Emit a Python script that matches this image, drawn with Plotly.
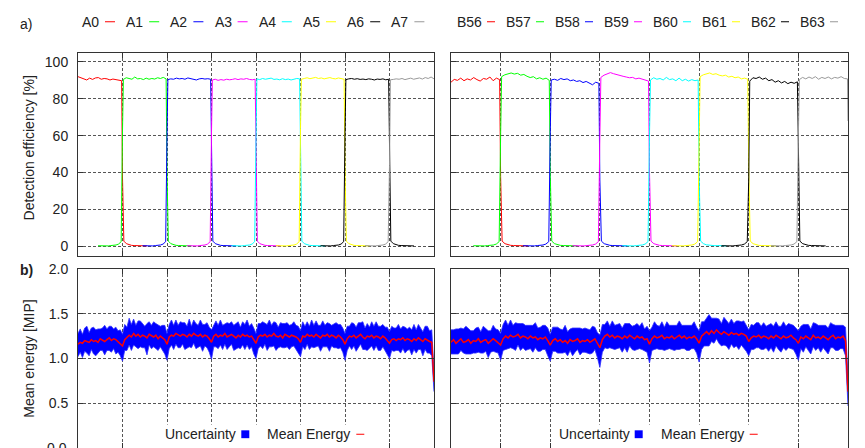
import numpy as np
import plotly.graph_objects as go

# ---------------- data ----------------
N_CELLS = 8
LABELS_A = ["A0", "A1", "A2", "A3", "A4", "A5", "A6", "A7"]
LABELS_B = ["B56", "B57", "B58", "B59", "B60", "B61", "B62", "B63"]
COLORS = ["#ff0000", "#00ff00", "#0000ff", "#ff00ff", "#00ffff", "#ffff00", "#000000", "#999999"]

# detection efficiency [%] on each channel's own tile
PLATEAU_A = [
    [92.0, 91.5, 91.0, 90.2, 91.2, 90.5, 91.3, 91.5, 90.6, 91.0, 90.8, 90.2, 90.7, 90.4, 90.0, 89.8],
    [90.5, 91.4, 91.2, 90.6, 91.8, 90.8, 91.0, 90.4, 91.2, 90.6, 91.0, 90.7, 91.4, 91.0, 91.6, 90.8],
    [90.4, 90.8, 90.6, 91.2, 90.8, 91.0, 90.6, 91.3, 90.9, 90.5, 90.2, 90.8, 91.0, 90.7, 90.9, 90.6],
    [90.2, 90.6, 90.0, 90.4, 90.1, 90.6, 90.3, 90.5, 90.9, 90.4, 90.8, 90.6, 91.0, 90.5, 90.3, 90.6],
    [90.8, 90.4, 91.0, 90.6, 90.8, 91.2, 90.5, 90.7, 90.3, 90.9, 90.4, 90.7, 90.2, 90.6, 91.0, 90.8],
    [90.6, 91.0, 91.4, 90.9, 91.2, 91.6, 91.0, 91.3, 90.8, 91.1, 91.5, 91.0, 90.8, 91.3, 91.0, 90.6],
    [90.4, 90.8, 91.0, 90.6, 90.9, 90.5, 90.7, 90.4, 90.8, 90.6, 90.2, 90.7, 90.5, 90.8, 90.3, 90.6],
    [90.3, 90.5, 90.8, 90.6, 91.0, 90.4, 90.7, 91.2, 90.6, 90.9, 91.3, 90.7, 91.5, 91.0, 91.8, 90.8],
]
PLATEAU_B = [
    [89.0, 90.5, 90.0, 91.2, 89.8, 90.8, 90.2, 91.5, 90.4, 89.6, 91.0, 90.6, 91.8, 89.8, 91.2, 90.4],
    [92.0, 93.0, 93.6, 94.0, 93.4, 93.8, 92.8, 93.2, 92.2, 91.5, 92.0, 90.8, 91.4, 90.6, 91.2, 90.0],
    [90.2, 90.6, 90.0, 91.0, 90.4, 90.8, 89.8, 90.2, 89.4, 89.8, 88.8, 89.4, 88.6, 87.6, 89.0, 88.4],
    [91.6, 92.8, 93.4, 94.2, 93.6, 93.0, 92.6, 92.2, 91.8, 91.4, 91.6, 90.8, 91.2, 90.6, 90.2, 89.6],
    [90.2, 91.4, 90.6, 91.0, 90.2, 91.6, 90.4, 90.8, 89.8, 91.2, 89.8, 90.6, 89.6, 90.4, 89.8, 90.2],
    [92.0, 93.0, 93.6, 94.0, 93.2, 93.6, 92.8, 92.4, 92.8, 91.8, 92.2, 91.4, 91.8, 90.8, 91.2, 90.6],
    [89.6, 91.4, 91.0, 91.8, 90.6, 91.2, 89.8, 90.4, 89.0, 89.8, 88.6, 89.4, 88.2, 89.0, 88.4, 89.2],
    [90.4, 91.6, 90.8, 91.8, 91.0, 92.0, 90.6, 91.6, 91.0, 91.8, 90.8, 91.6, 91.2, 92.0, 91.0, 90.8],
]
RISE_A = [None, 63, 60, 62, 58, 64, 61, 44]
FALL_A = [37, 40, 43, 38, 40, 42, 60, None]
RISE_B = [None, 60, 62, 60, 61, 55, 37, 60]
FALL_B = [38, 40, 36, 40, 38, 42, 60, None]
END_B = 68
PRE_TAIL = [0.3, 0.2, 0.4, 0.3, 0.2, 0.4, 0.5, 0.7, 1.2, 2.5]
POST_TAIL = [2.8, 1.4, 0.8, 0.5, 0.4, 0.3, 0.4, 0.2, 0.3, 0.2]

EFF_TICKS = [0, 20, 40, 60, 80, 100]
EN_TICKS = [0.0, 0.5, 1.0, 1.5, 2.0]

# mean energy [MIP] along the scan, 20 samples per tile + end point
LEFT_MEAN = [
    1.16, 1.18, 1.17, 1.20, 1.19, 1.18, 1.21, 1.19, 1.20, 1.18, 1.22, 1.20, 1.19, 1.21, 1.23, 1.20, 1.22, 1.21, 1.19, 1.17,
    1.14, 1.21, 1.23, 1.26, 1.24, 1.28, 1.25, 1.27, 1.24, 1.26, 1.25, 1.23, 1.27, 1.25, 1.24, 1.26, 1.22, 1.25, 1.23, 1.21,
    1.16, 1.24, 1.26, 1.25, 1.28, 1.26, 1.25, 1.27, 1.26, 1.24, 1.27, 1.25, 1.28, 1.26, 1.25, 1.27, 1.24, 1.26, 1.25, 1.22,
    1.18, 1.25, 1.27, 1.24, 1.26, 1.25, 1.28, 1.24, 1.26, 1.27, 1.25, 1.23, 1.26, 1.24, 1.27, 1.25, 1.26, 1.24, 1.25, 1.21,
    1.17, 1.24, 1.26, 1.25, 1.27, 1.24, 1.26, 1.25, 1.28, 1.25, 1.24, 1.26, 1.23, 1.27, 1.25, 1.24, 1.26, 1.25, 1.24, 1.22,
    1.18, 1.25, 1.24, 1.27, 1.25, 1.26, 1.24, 1.27, 1.25, 1.23, 1.26, 1.25, 1.27, 1.24, 1.26, 1.25, 1.23, 1.26, 1.24, 1.21,
    1.16, 1.22, 1.25, 1.24, 1.26, 1.23, 1.25, 1.27, 1.24, 1.22, 1.25, 1.24, 1.26, 1.23, 1.25, 1.24, 1.22, 1.25, 1.23, 1.20,
    1.17, 1.21, 1.22, 1.20, 1.22, 1.21, 1.23, 1.20, 1.22, 1.21, 1.19, 1.22, 1.20, 1.23, 1.21, 1.19, 1.22, 1.20, 1.19, 1.18,
    0.74,
]
LEFT_ERR_UP = [
    .12, .15, .10, .14, .17, .11, .13, .16, .12, .15, .11, .14, .18, .12, .13, .16, .11, .14, .12, .15,
    .13, .17, .12, .19, .14, .16, .12, .15, .18, .13, .11, .16, .14, .12, .17, .13, .15, .11, .14, .16,
    .12, .14, .17, .12, .15, .11, .16, .13, .14, .12, .17, .11, .15, .13, .12, .16, .14, .12, .15, .13,
    .14, .12, .15, .13, .17, .12, .11, .16, .13, .14, .12, .16, .15, .11, .14, .13, .17, .12, .14, .13,
    .11, .15, .13, .16, .12, .14, .17, .12, .13, .15, .11, .14, .16, .12, .15, .13, .12, .16, .13, .14,
    .13, .16, .12, .14, .11, .17, .13, .15, .12, .14, .16, .12, .13, .15, .11, .14, .17, .12, .14, .13,
    .12, .14, .11, .16, .13, .12, .15, .13, .17, .12, .14, .11, .15, .13, .16, .12, .14, .13, .12, .15,
    .13, .15, .12, .14, .16, .12, .13, .15, .11, .14, .13, .16, .12, .15, .13, .11, .14, .16, .12, .14,
    .11,
]
LEFT_ERR_DN = [
    .14, .11, .16, .12, .13, .15, .11, .14, .17, .12, .13, .11, .15, .12, .14, .13, .11, .16, .12, .14,
    .17, .12, .14, .11, .15, .13, .12, .16, .11, .14, .13, .19, .12, .14, .11, .15, .13, .12, .14, .16,
    .18, .13, .11, .15, .12, .14, .13, .11, .16, .12, .14, .13, .11, .15, .12, .13, .16, .12, .13, .15,
    .19, .12, .14, .13, .11, .15, .12, .14, .13, .11, .16, .12, .14, .13, .12, .15, .11, .14, .12, .16,
    .17, .13, .12, .14, .11, .15, .13, .12, .14, .16, .12, .13, .11, .15, .12, .14, .13, .11, .14, .15,
    .16, .12, .14, .11, .15, .13, .12, .14, .11, .15, .13, .12, .14, .16, .12, .13, .11, .15, .12, .14,
    .18, .13, .11, .14, .12, .15, .13, .11, .14, .12, .16, .13, .12, .14, .11, .15, .13, .12, .14, .15,
    .17, .12, .14, .11, .13, .15, .12, .14, .13, .11, .15, .12, .14, .13, .11, .16, .12, .14, .13, .15,
    .11,
]
RIGHT_MEAN = [
    1.18, 1.21, 1.17, 1.20, 1.22, 1.18, 1.19, 1.21, 1.17, 1.20, 1.19, 1.22, 1.18, 1.20, 1.21, 1.17, 1.19, 1.22, 1.20, 1.18,
    1.15, 1.22, 1.25, 1.23, 1.26, 1.24, 1.25, 1.27, 1.23, 1.25, 1.24, 1.22, 1.25, 1.23, 1.24, 1.21, 1.23, 1.22, 1.24, 1.20,
    1.15, 1.20, 1.22, 1.19, 1.21, 1.18, 1.20, 1.17, 1.21, 1.19, 1.20, 1.22, 1.18, 1.20, 1.19, 1.21, 1.18, 1.20, 1.22, 1.17,
    1.12, 1.21, 1.25, 1.27, 1.24, 1.26, 1.23, 1.25, 1.24, 1.22, 1.25, 1.23, 1.26, 1.24, 1.22, 1.25, 1.23, 1.24, 1.21, 1.22,
    1.16, 1.22, 1.25, 1.23, 1.24, 1.26, 1.22, 1.24, 1.23, 1.25, 1.22, 1.24, 1.26, 1.23, 1.25, 1.22, 1.24, 1.23, 1.25, 1.22,
    1.17, 1.25, 1.28, 1.30, 1.27, 1.31, 1.28, 1.32, 1.29, 1.27, 1.30, 1.28, 1.26, 1.29, 1.27, 1.28, 1.26, 1.28, 1.27, 1.25,
    1.19, 1.23, 1.25, 1.24, 1.26, 1.23, 1.25, 1.24, 1.22, 1.25, 1.23, 1.26, 1.24, 1.22, 1.25, 1.23, 1.24, 1.26, 1.23, 1.21,
    1.17, 1.24, 1.22, 1.25, 1.23, 1.21, 1.26, 1.23, 1.24, 1.22, 1.25, 1.23, 1.21, 1.24, 1.26, 1.22, 1.24, 1.23, 1.25, 1.20,
    0.63,
]
RIGHT_ERR_UP = [
    .14, .11, .16, .13, .12, .15, .17, .12, .14, .11, .15, .13, .12, .16, .13, .14, .12, .15, .13, .14,
    .13, .16, .18, .14, .17, .13, .15, .12, .16, .14, .13, .15, .12, .14, .16, .13, .12, .15, .13, .14,
    .12, .15, .13, .16, .12, .14, .17, .13, .12, .15, .14, .12, .16, .13, .15, .12, .14, .16, .13, .12,
    .14, .17, .13, .15, .12, .16, .14, .13, .15, .12, .14, .16, .13, .12, .15, .14, .13, .16, .12, .14,
    .15, .13, .16, .14, .12, .15, .13, .17, .14, .12, .15, .13, .16, .14, .12, .15, .13, .14, .16, .13,
    .14, .16, .13, .15, .22, .14, .17, .13, .15, .12, .16, .14, .13, .15, .12, .14, .16, .13, .15, .12,
    .13, .15, .12, .16, .14, .13, .15, .12, .16, .14, .13, .15, .12, .14, .16, .13, .15, .12, .14, .13,
    .14, .12, .16, .13, .15, .12, .14, .16, .13, .15, .12, .14, .13, .16, .12, .15, .13, .14, .12, .15,
    .17,
]
RIGHT_ERR_DN = [
    .13, .16, .12, .15, .13, .12, .14, .16, .12, .14, .13, .15, .12, .14, .13, .16, .12, .14, .13, .12,
    .17, .13, .15, .12, .14, .13, .16, .12, .14, .13, .15, .12, .14, .16, .12, .13, .15, .12, .14, .17,
    .18, .12, .14, .13, .15, .12, .13, .14, .12, .16, .13, .12, .14, .13, .12, .15, .13, .14, .12, .16,
    .22, .14, .13, .16, .12, .15, .13, .14, .12, .15, .13, .16, .12, .14, .13, .15, .12, .14, .13, .15,
    .21, .13, .15, .12, .14, .16, .13, .14, .12, .15, .13, .14, .16, .12, .14, .13, .15, .12, .14, .16,
    .21, .15, .14, .16, .13, .12, .11, .10, .12, .13, .15, .14, .16, .13, .15, .14, .16, .13, .15, .17,
    .16, .13, .15, .12, .14, .13, .15, .12, .14, .13, .16, .12, .14, .15, .13, .14, .12, .15, .13, .16,
    .19, .13, .15, .12, .14, .16, .13, .14, .12, .15, .13, .14, .16, .12, .14, .13, .15, .12, .14, .17,
    .16,
]

# ---------------- layout geometry (pixels) ----------------
W, H = 865, 448
FONT = "Liberation Sans, Arial, Helvetica, sans-serif"


def fx(p):
    return p / W


def fy(p):
    return 1 - p / H


X_LEFT = [fx(78), fx(434)]
X_RIGHT = [fx(451), fx(848)]
Y_TOP = [fy(252), fy(45.5)]
Y_BOT = [0.0, fy(265.7)]


def channel(i, plateau, rise, fall, end_val=None):
    xs, ys = [], []
    if i > 0:
        xs += list(np.linspace(i - 0.55, i - 0.03, len(PRE_TAIL)))
        ys += PRE_TAIL
        xs.append(i)
        ys.append(rise[i])
    x0 = i if i == 0 else i + 0.02
    if i == N_CELLS - 1:
        x1 = i + 0.99 if end_val is not None else i + 1
    else:
        x1 = i + 0.98
    xs += list(np.linspace(x0, x1, len(plateau[i])))
    ys += plateau[i]
    if i < N_CELLS - 1:
        xs.append(i + 1)
        ys.append(fall[i])
        xs += list(np.linspace(i + 1.03, i + 1.55, len(POST_TAIL)))
        ys += POST_TAIL
    elif end_val is not None:
        xs.append(i + 1)
        ys.append(end_val)
    return xs, ys


fig = go.Figure()

# efficiency panels
for i in range(N_CELLS):
    xs, ys = channel(i, PLATEAU_A, RISE_A, FALL_A)
    fig.add_trace(go.Scatter(x=xs, y=ys, mode="lines", name=LABELS_A[i],
                             line=dict(color=COLORS[i], width=1), xaxis="x", yaxis="y",
                             showlegend=False))
for i in range(N_CELLS):
    xs, ys = channel(i, PLATEAU_B, RISE_B, FALL_B, END_B if i == N_CELLS - 1 else None)
    fig.add_trace(go.Scatter(x=xs, y=ys, mode="lines", name=LABELS_B[i],
                             line=dict(color=COLORS[i], width=1), xaxis="x2", yaxis="y2",
                             showlegend=False))

# energy panels
for mean, up, dn, xa, ya in [(LEFT_MEAN, LEFT_ERR_UP, LEFT_ERR_DN, "x3", "y3"),
                             (RIGHT_MEAN, RIGHT_ERR_UP, RIGHT_ERR_DN, "x4", "y4")]:
    m = np.array(mean)
    xe = np.linspace(0, N_CELLS, len(m))
    lo = m - np.array(dn)
    hi = m + np.array(up)
    fig.add_trace(go.Scatter(x=xe, y=lo, mode="lines", line=dict(color="#3030ff", width=0.8),
                             xaxis=xa, yaxis=ya, showlegend=False, name="Uncertainty"))
    fig.add_trace(go.Scatter(x=xe, y=hi, mode="lines", line=dict(color="#3030ff", width=0.8),
                             fill="tonexty", fillcolor="#0000ff",
                             xaxis=xa, yaxis=ya, showlegend=False, name="Uncertainty"))
    fig.add_trace(go.Scatter(x=xe, y=m, mode="lines", line=dict(color="#ff0000", width=1.5),
                             xaxis=xa, yaxis=ya, showlegend=False, name="Mean Energy"))

axis_common = dict(
    showline=True, linecolor="#333333", linewidth=1, mirror="allticks",
    ticks="inside", ticklen=5, tickcolor="#333333", tickwidth=1,
    showgrid=True, gridcolor="#555555", gridwidth=1, griddash="3px,2px",
    zeroline=False, tickfont=dict(family=FONT, size=14, color="#222222"),
)
x_common = dict(axis_common, range=[0, N_CELLS], tick0=0, dtick=1, showticklabels=False)

fig.update_layout(
    width=W, height=H, autosize=False,
    margin=dict(l=0, r=0, t=0, b=0),
    paper_bgcolor="white", plot_bgcolor="white",
    font=dict(family=FONT, size=14, color="#222222"),
    xaxis=dict(x_common, domain=X_LEFT, anchor="y"),
    xaxis2=dict(x_common, domain=X_RIGHT, anchor="y2"),
    xaxis3=dict(x_common, domain=X_LEFT, anchor="y3"),
    xaxis4=dict(x_common, domain=X_RIGHT, anchor="y4"),
    yaxis=dict(axis_common, domain=Y_TOP, anchor="x", range=[-5, 105], tickvals=EFF_TICKS,
               ticklabelstandoff=6),
    yaxis2=dict(axis_common, domain=Y_TOP, anchor="x2", range=[-5, 105], tickvals=EFF_TICKS,
                showticklabels=False),
    yaxis3=dict(axis_common, domain=Y_BOT, anchor="x3", range=[0, 2], tickvals=EN_TICKS,
                tickformat=".1f", ticklabelstandoff=6),
    yaxis4=dict(axis_common, domain=Y_BOT, anchor="x4", range=[0, 2], tickvals=EN_TICKS,
                showticklabels=False),
)

ann = []
shapes = []

# panel labels and axis titles
ann.append(dict(text="a)", x=fx(18), y=fy(16), xref="paper", yref="paper",
                xanchor="left", yanchor="middle", showarrow=False, font=dict(size=14)))
ann.append(dict(text="<b>b)</b>", x=fx(18), y=fy(267), xref="paper", yref="paper",
                xanchor="left", yanchor="middle", showarrow=False, font=dict(size=14)))
ann.append(dict(text="Detection efficiency [%]", x=fx(29), y=fy(143), xref="paper", yref="paper",
                xanchor="center", yanchor="middle", textangle=-90, showarrow=False,
                font=dict(size=14)))
ann.append(dict(text="Mean energy [MIP]", x=fx(29), y=fy(357), xref="paper", yref="paper",
                xanchor="center", yanchor="middle", textangle=-90, showarrow=False,
                font=dict(size=14)))
# the lowest energy tick label sits on the page edge (half visible)
ann.append(dict(text="0.0", x=fx(69), y=0, xref="paper", yref="paper",
                xanchor="right", yanchor="middle", showarrow=False, font=dict(size=14)))

# top legends: label followed by a short line sample
for i in range(N_CELLS):
    tx = 80 + i * 44.2
    ann.append(dict(text=LABELS_A[i], x=fx(tx), y=fy(14), xref="paper", yref="paper",
                    xanchor="left", yanchor="middle", showarrow=False, font=dict(size=14)))
    shapes.append(dict(type="line", xref="paper", yref="paper",
                       x0=fx(tx + 25), x1=fx(tx + 35), y0=fy(14), y1=fy(14),
                       line=dict(color=COLORS[i], width=1)))
for i in range(N_CELLS):
    tx = 455 + i * 49.0
    ann.append(dict(text=LABELS_B[i], x=fx(tx), y=fy(14), xref="paper", yref="paper",
                    xanchor="left", yanchor="middle", showarrow=False, font=dict(size=14)))
    shapes.append(dict(type="line", xref="paper", yref="paper",
                       x0=fx(tx + 32), x1=fx(tx + 40), y0=fy(14), y1=fy(14),
                       line=dict(color=COLORS[i], width=1)))

# bottom legends
for ux in (163.3, 556.7):
    shapes.append(dict(type="rect", xref="paper", yref="paper", layer="above",
                       x0=fx(ux - 5), x1=fx(ux + 205), y0=0, y1=fy(424),
                       fillcolor="white", line=dict(width=0)))
    ann.append(dict(text="Uncertainty", x=fx(ux), y=fy(434), xref="paper", yref="paper",
                    xanchor="left", yanchor="middle", showarrow=False, font=dict(size=14)))
    shapes.append(dict(type="rect", xref="paper", yref="paper", layer="above",
                       x0=fx(ux + 78), x1=fx(ux + 86), y0=fy(438), y1=fy(430),
                       fillcolor="#0000ff", line=dict(width=0)))
    ann.append(dict(text="Mean Energy", x=fx(ux + 102), y=fy(434), xref="paper", yref="paper",
                    xanchor="left", yanchor="middle", showarrow=False, font=dict(size=14)))
    shapes.append(dict(type="line", xref="paper", yref="paper", layer="above",
                       x0=fx(ux + 193), x1=fx(ux + 201), y0=fy(434), y1=fy(434),
                       line=dict(color="#ff0000", width=1)))

fig.update_layout(annotations=ann, shapes=shapes)

# pin the graph to the top-left corner of the page (no body margin)
PIN_JS = ("document.body.style.margin='0';document.body.style.padding='0';"
          "document.body.style.overflow='hidden';"
          "var d=document.getElementById('{plot_id}');"
          "d.style.position='fixed';d.style.left='0px';d.style.top='0px';")
fig.write_html("out.html", post_script=PIN_JS, config={"displayModeBar": False})
